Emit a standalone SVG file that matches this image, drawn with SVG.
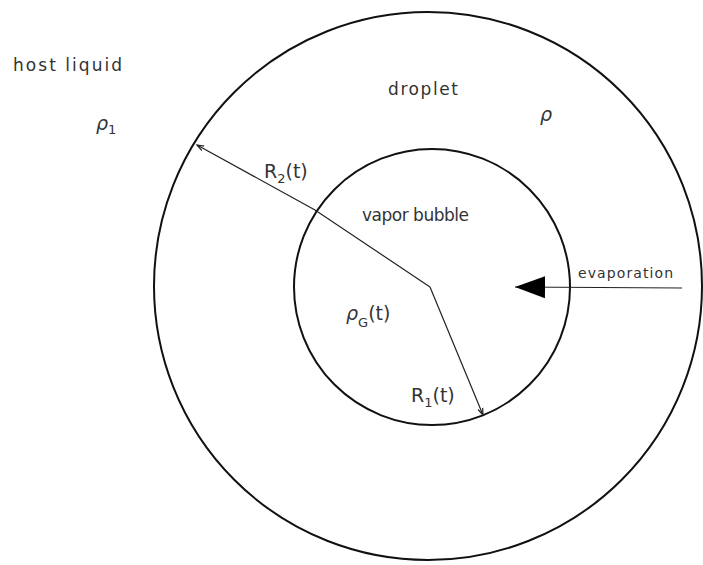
<svg xmlns="http://www.w3.org/2000/svg" width="703" height="565" viewBox="0 0 703 565">
<style>
.c{fill:none;stroke:#111;stroke-width:2}
.l{fill:none;stroke:#222;stroke-width:1.2}
.t{font-family:"DejaVu Sans",sans-serif;font-size:17px;fill:#333}
.m{font-size:19px}
.s{font-size:13px}
.e{font-size:14px}
.g{font-style:italic}
</style>
<defs>
<marker id="tip" markerWidth="8" markerHeight="8" refX="7" refY="4" orient="auto" markerUnits="userSpaceOnUse">
<path d="M0,1.5 L7,4 L0,6.5" fill="none" stroke="#222" stroke-width="1.2"/>
</marker>
<marker id="big" markerWidth="32" markerHeight="24" refX="30" refY="12" orient="auto" markerUnits="userSpaceOnUse">
<path d="M0,1 L30,12 L0,23 Z" fill="#000"/>
</marker>
</defs>
<g id="droplet">
<circle class="c" cx="428" cy="286" r="274"/>
<text class="t" x="388" y="95" textLength="70">droplet</text>
<text class="t m g" x="540" y="121">ρ</text>
</g>
<g id="bubble">
<circle class="c" cx="432" cy="287" r="138"/>
<text class="t" x="362" y="221" textLength="107">vapor bubble</text>
<text class="t m g" x="346" y="320">ρ<tspan class="s" font-style="normal" dy="7">G</tspan><tspan font-style="normal" dy="-7">(t)</tspan></text>
</g>
<g id="host">
<text class="t" x="13" y="71" textLength="109">host liquid</text>
<text class="t m g" x="96" y="130">ρ<tspan class="s" font-style="normal" dy="4">1</tspan></text>
</g>
<g id="connectors">
<polyline class="l" points="430,287 315,210 197,145" marker-end="url(#tip)"/>
<polyline class="l" points="430,287 483,415" marker-end="url(#tip)"/>
<line class="l" x1="682" y1="288" x2="515" y2="287" marker-end="url(#big)"/>
</g>
<g id="labels">
<text class="t m" x="264" y="178">R<tspan class="s" dy="5">2</tspan><tspan dy="-5">(t)</tspan></text>
<text class="t m" x="411" y="402">R<tspan class="s" dy="5">1</tspan><tspan dy="-5">(t)</tspan></text>
<text class="t e" x="578" y="278" textLength="95">evaporation</text>
</g>
</svg>
